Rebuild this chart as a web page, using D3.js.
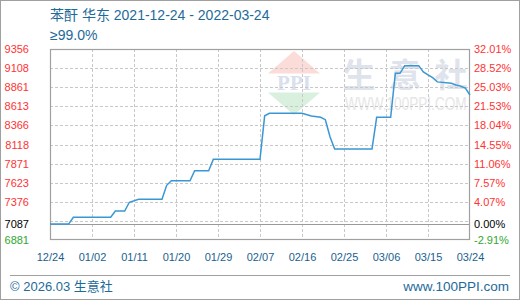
<!DOCTYPE html>
<html>
<head>
<meta charset="utf-8">
<script src="https://cdn.jsdelivr.net/npm/d3@7"></script>
<style>
  body { margin: 0; background: #fff; }
  svg text { font-family: "Liberation Sans", Arial, "Noto Sans CJK SC", sans-serif; }
</style>
</head>
<body>
<div id="chart"></div>
<script>
// price series (苯酐 华东)
const dates = ["2021-12-24", "2021-12-28", "2021-12-29", "2022-01-06", "2022-01-07", "2022-01-09",
    "2022-01-10", "2022-01-12", "2022-01-17", "2022-01-18", "2022-01-19", "2022-01-23",
    "2022-01-24", "2022-01-27", "2022-01-28", "2022-02-07", "2022-02-08", "2022-02-09",
    "2022-02-16", "2022-02-18", "2022-02-20", "2022-02-21", "2022-02-22", "2022-02-23",
    "2022-03-03", "2022-03-04", "2022-03-07", "2022-03-08", "2022-03-09", "2022-03-10",
    "2022-03-13", "2022-03-14", "2022-03-15", "2022-03-16", "2022-03-17", "2022-03-20",
    "2022-03-21", "2022-03-22", "2022-03-23", "2022-03-24"];
const prices = [7087, 7087, 7175, 7175, 7257, 7257,
    7370, 7408, 7408, 7590, 7649, 7649,
    7779, 7779, 7927, 7927, 8490, 8523,
    8523, 8488, 8471, 8440, 8220, 8060,
    8060, 8471, 8471, 9041, 9041, 9140,
    9140, 9060, 9020, 8985, 8930, 8912,
    8890, 8875, 8850, 8760];

const basePrice = 7087;
const yMin = 6881, yMax = 9356;
const leftTicks = [6881, 7087, 7376, 7623, 7871, 8118, 8366, 8613, 8861, 9108, 9356];
const rightTicks = ["-2.91%", "0.00%", "4.07%", "7.57%", "11.06%", "14.55%", "18.04%", "21.53%", "25.03%", "28.52%", "32.01%"];
const xTicks = ["2021-12-24", "2022-01-02", "2022-01-11", "2022-01-20", "2022-01-29", "2022-02-07",
    "2022-02-16", "2022-02-25", "2022-03-06", "2022-03-15", "2022-03-24"];

let w = 520;
let h = 300;
let margin = {top: 49, right: 50, bottom: 60, left: 50};

const parse = d3.utcParse("%Y-%m-%d");
const data = dates.map((d, i) => ({date: parse(d), price: prices[i]}));

const svg = d3.select("#chart")
    .append("svg")
    .attr("width", w)
    .attr("height", h);

let xScale = d3.scaleUtc()
    .domain([parse(xTicks[0]), parse(xTicks[xTicks.length - 1])])
    .range([margin.left, w - margin.right]);
let yScale = d3.scaleLinear()
    .domain([yMin, yMax])
    .range([h - margin.bottom, margin.top]);

// outer frame
svg.append("rect")
    .attr("x", 0.5).attr("y", 0.5)
    .attr("width", w - 1).attr("height", h - 1)
    .attr("fill", "none")
    .attr("stroke", "#a0a0a0");

// watermark
const wm = svg.append("g");
wm.append("path")
    .attr("d", "M294,51 L320,73.5 L268,73.5 Z")
    .attr("fill", "#fbdcd8");
wm.append("path")
    .attr("d", "M268,92.5 L320,92.5 L294,115 Z")
    .attr("fill", "#daf0df");
wm.append("text")
    .attr("x", 294).attr("y", 90)
    .attr("text-anchor", "middle")
    .style("font-family", "'Liberation Serif', serif")
    .style("font-size", "21px")
    .style("font-weight", "bold")
    .attr("fill", "#d9dfec")
    .text("PPI");
wm.selectAll(".wmchar")
    .data(["生", "意", "社"])
    .enter()
    .append("text")
    .attr("class", "wmchar")
    .attr("x", (d, i) => 359 + i * 46)
    .attr("y", 87)
    .attr("text-anchor", "middle")
    .style("font-family", "'Noto Sans CJK SC', sans-serif")
    .style("font-size", "33px")
    .style("font-weight", "bold")
    .attr("fill", "#dfe3ec")
    .text(d => d);
wm.append("g")
    .attr("transform", "translate(345,110) scale(1,1.3)")
    .append("text")
    .style("font-size", "13.6px")
    .attr("fill", "#e6e6e6")
    .text("WWW.100PPI.COM");

// grid
const gridY = d3.range(1, 10).map(k => yMin + k * (yMax - yMin) / 10);
svg.append("g")
    .selectAll("line")
    .data(gridY)
    .enter()
    .append("line")
    .attr("x1", margin.left).attr("x2", w - margin.right)
    .attr("y1", d => Math.round(yScale(d)) + 0.5)
    .attr("y2", d => Math.round(yScale(d)) + 0.5)
    .attr("stroke", "#c8c8c8")
    .attr("stroke-dasharray", "3,2");
svg.append("g")
    .selectAll("line")
    .data(xTicks.slice(1, -1))
    .enter()
    .append("line")
    .attr("x1", d => Math.round(xScale(parse(d))) + 0.5)
    .attr("x2", d => Math.round(xScale(parse(d))) + 0.5)
    .attr("y1", margin.top).attr("y2", h - margin.bottom)
    .attr("stroke", "#c8c8c8")
    .attr("stroke-dasharray", "3,2");

// base price line
svg.append("line")
    .attr("x1", margin.left).attr("x2", w - margin.right)
    .attr("y1", Math.round(yScale(basePrice)) + 0.5)
    .attr("y2", Math.round(yScale(basePrice)) + 0.5)
    .attr("stroke", "#999");

// plot frame
svg.append("rect")
    .attr("x", margin.left + 0.5).attr("y", margin.top + 0.5)
    .attr("width", w - margin.left - margin.right - 1)
    .attr("height", h - margin.top - margin.bottom - 1)
    .attr("fill", "none")
    .attr("stroke", "#a0a0a0")
    .attr("stroke-width", 1.2);

// price line
const line = d3.line()
    .x(d => xScale(d.date))
    .y(d => yScale(d.price));
svg.append("path")
    .datum(data)
    .attr("d", line)
    .attr("fill", "none")
    .attr("stroke", "#3a97d4")
    .attr("stroke-width", 1.5);

const tickColor = v => v > basePrice ? "#ff3333" : (v < basePrice ? "#2fa82f" : "#000");

// left axis
const yLeft = svg.append("g")
    .attr("transform", "translate(" + (margin.left - 21) + ",0)")
    .call(d3.axisLeft(yScale).tickValues(leftTicks).tickSize(0).tickPadding(0)
        .tickFormat(d3.format("d")));
yLeft.select(".domain").remove();
yLeft.selectAll("text")
    .attr("fill", d => tickColor(d))
    .style("font-size", "11px");

// right axis
const yRight = svg.append("g")
    .attr("transform", "translate(" + (w - margin.right + 4) + ",0)")
    .call(d3.axisRight(yScale).tickValues(leftTicks).tickSize(0).tickPadding(0)
        .tickFormat((d, i) => rightTicks[i]));
yRight.select(".domain").remove();
yRight.selectAll("text")
    .attr("fill", d => tickColor(d))
    .style("font-size", "11px");

// x axis
const xAxis = svg.append("g")
    .attr("transform", "translate(0," + (h - margin.bottom) + ")")
    .call(d3.axisBottom(xScale).tickValues(xTicks.map(parse)).tickSize(0).tickPadding(13)
        .tickFormat(d3.utcFormat("%m/%d")));
xAxis.select(".domain").remove();
xAxis.selectAll("text")
    .attr("fill", "#1a5f8f")
    .style("font-size", "11px");

// titles
svg.append("text")
    .attr("x", margin.left).attr("y", 20)
    .attr("fill", "#1e6a9a")
    .style("font-size", "14px")
    .text("苯酐 华东 2021-12-24 - 2022-03-24");
svg.append("text")
    .attr("x", margin.left).attr("y", 40)
    .attr("fill", "#1e6a9a")
    .style("font-size", "14px")
    .text("≥99.0%");

// footer
svg.append("line")
    .attr("x1", 10).attr("x2", 510)
    .attr("y1", 275.5).attr("y2", 275.5)
    .attr("stroke", "#a0a0a0");
svg.append("text")
    .attr("x", 10).attr("y", 291)
    .attr("fill", "#1e6a9a")
    .style("font-size", "13px")
    .text("© 2026.03 生意社");
svg.append("text")
    .attr("x", 509).attr("y", 291)
    .attr("text-anchor", "end")
    .attr("fill", "#1e6a9a")
    .style("font-size", "13.5px")
    .text("www.100PPI.com");
</script>
</body>
</html>
